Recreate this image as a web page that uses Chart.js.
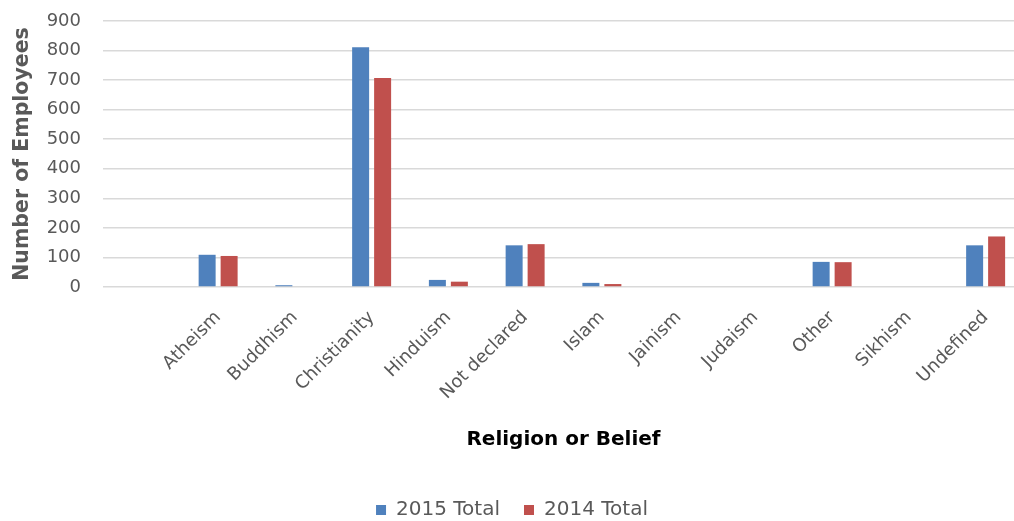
<!DOCTYPE html>
<html>
<head>
<meta charset="utf-8">
<script src="https://cdn.jsdelivr.net/npm/chart.js@4/dist/chart.umd.min.js"></script>
<style>
  html, body { margin: 0; padding: 0; background: #ffffff; overflow: hidden; }
  #wrap { width: 1014px; height: 521px; overflow: hidden; position: relative; }
  #c { display: block; }
</style>
</head>
<body>
<div id="wrap"><canvas id="c" width="1030" height="521"></canvas></div>
<script>
const categories = ['', 'Atheism', 'Buddhism', 'Christianity', 'Hinduism', 'Not declared', 'Islam', 'Jainism', 'Judaism', 'Other', 'Sikhism', 'Undefined'];
const total2015 = [null, 109, 6, 811, 24, 141, 14, 0, 0, 85, 0, 141];
const total2014 = [null, 105, 0, 707, 18, 145, 10, 0, 0, 84, 0, 171];
const seriesNames = ['2015 Total', '2014 Total'];
const yTicks = { min: 0, max: 900, step: 100 };

const FONT = "'DejaVu Sans', sans-serif";

new Chart(document.getElementById('c'), {
  type: 'bar',
  data: {
    labels: categories,
    datasets: [
      { label: seriesNames[0], data: total2015, backgroundColor: '#4F81BD', borderWidth: 0 },
      { label: seriesNames[1], data: total2014, backgroundColor: '#C0504D', borderWidth: 0 }
    ]
  },
  options: {
    responsive: false,
    animation: false,
    categoryPercentage: 0.573,
    barPercentage: 0.773,
    layout: { padding: { left: 0, right: 6, top: 21, bottom: -9 } },
    plugins: {
      legend: {
        position: 'bottom',
        labels: {
          boxWidth: 10, boxHeight: 10, padding: 24,
          color: '#595959',
          font: { family: FONT, size: 20 }
        }
      },
      tooltip: { enabled: false }
    },
    scales: {
      x: {
        grid: { display: false, drawTicks: false },
        border: { display: false },
        ticks: {
          color: '#595959',
          font: { family: FONT, size: 18 },
          minRotation: 45, maxRotation: 45,
          padding: 20,
          autoSkip: false
        },
        title: {
          display: true,
          text: 'Religion or Belief',
          color: '#000000',
          font: { family: FONT, size: 20, weight: 'bold' },
          padding: { top: 0, bottom: 24 }
        },
        afterFit: (s) => { s.height = 189; }
      },
      y: {
        min: yTicks.min, max: yTicks.max,
        grid: { color: '#d9d9d9', lineWidth: 1.5, drawTicks: false },
        border: { display: false },
        ticks: {
          stepSize: yTicks.step,
          color: '#595959',
          font: { family: FONT, size: 18 },
          padding: 22
        },
        title: {
          display: true,
          text: 'Number of Employees',
          color: '#595959',
          font: { family: FONT, size: 20.5, weight: 'bold' },
          padding: { top: 10, bottom: 0 }
        },
        afterFit: (s) => { s.width = 103; s.paddingTop = 11; s.paddingBottom = 11; }
      }
    }
  }
});
</script>
</body>
</html>
